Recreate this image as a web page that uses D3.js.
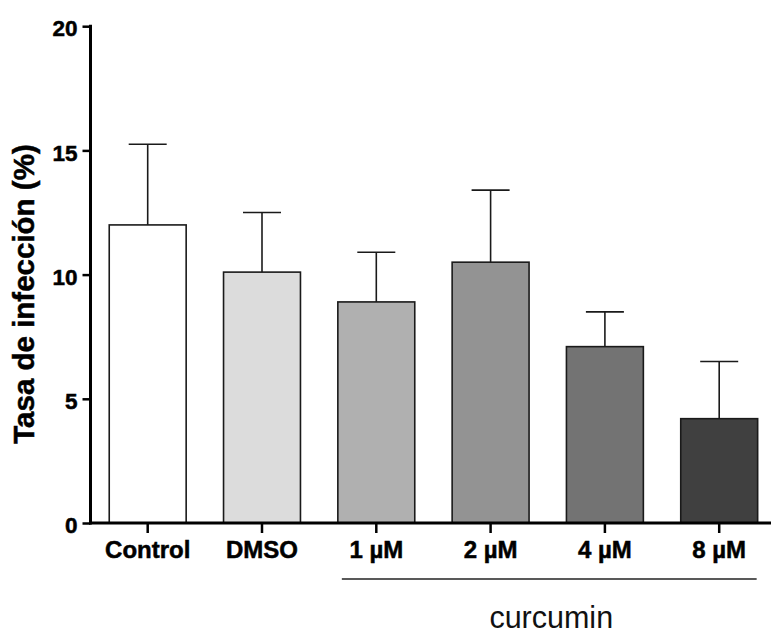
<!DOCTYPE html>
<html><head><meta charset="utf-8">
<script src="https://cdn.jsdelivr.net/npm/d3@7"></script>
<style>body{margin:0;background:#fff}svg{display:block}text{font-family:"Liberation Sans",Arial,sans-serif}</style>
</head><body>
<svg id="c" width="771" height="635"></svg>
<script>
const categories = ["Control","DMSO","1 µM","2 µM","4 µM","8 µM"];
const means = [12.0, 10.1, 8.9, 10.5, 7.1, 4.2];
const errors = [3.25, 2.4, 2.0, 2.9, 1.4, 2.3];
const fills = ["#ffffff","#dcdcdc","#b0b0b0","#939393","#737373","#404040"];
const yTicks = [0,5,10,15,20];
const groupLabel = "curcumin";
const yTitle = "Tasa de infección (%)";

const svg = d3.select("#c");
const y = d3.scaleLinear().domain([0,20]).range([523,26.2]);
const step = 114.3;
const x = d3.scaleBand().domain(categories).range([147.7-step/2, 147.7-step/2+step*6]).paddingInner(0.327).paddingOuter(0.1635);

// bars
svg.selectAll("rect.bar").data(categories).join("rect")
  .attr("x", d=>x(d)).attr("width", x.bandwidth())
  .attr("y", (d,i)=>y(means[i])).attr("height", (d,i)=>y(0)-y(means[i]))
  .attr("fill",(d,i)=>fills[i]).attr("stroke","#1a1a1a").attr("stroke-width",1.6);

// error bars
const eg = svg.append("g").attr("stroke","#1a1a1a").attr("stroke-width",1.6);
categories.forEach((d,i)=>{
  const cx = x(d)+x.bandwidth()/2;
  eg.append("line").attr("x1",cx).attr("x2",cx).attr("y1",y(means[i])).attr("y2",y(means[i]+errors[i]));
  eg.append("line").attr("x1",cx-19).attr("x2",cx+19).attr("y1",y(means[i]+errors[i])).attr("y2",y(means[i]+errors[i]));
});

// y axis
const ya = svg.append("g").attr("transform","translate(90.5,0)")
  .call(d3.axisLeft(y).tickValues(yTicks).tickSize(8).tickPadding(5).tickFormat(d3.format("d")));
ya.select(".domain").remove();
ya.selectAll(".tick line").attr("stroke","#000").attr("stroke-width",2.5);
ya.selectAll(".tick text").attr("font-size","22.5px").attr("font-weight","bold").attr("fill","#000")
  .attr("stroke","#000").attr("stroke-width",0.5)
  .attr("font-family",'"Liberation Sans",Arial,sans-serif').attr("dy","0.43em");
svg.append("line").attr("x1",90.5).attr("x2",90.5).attr("y1",24.8).attr("y2",524.5).attr("stroke","#000").attr("stroke-width",3);

// x axis
const xa = svg.append("g").attr("transform","translate(0,523)")
  .call(d3.axisBottom(x).tickSize(10).tickPadding(6));
xa.select(".domain").remove();
xa.selectAll(".tick line").attr("stroke","#000").attr("stroke-width",2.5);
xa.selectAll(".tick text").attr("font-size","24px").attr("font-weight","bold").attr("fill","#000")
  .attr("stroke","#000").attr("stroke-width",0.5)
  .attr("font-family",'"Liberation Sans",Arial,sans-serif').attr("dy",null).attr("y",34.7);
svg.append("line").attr("x1",89).attr("x2",771).attr("y1",523).attr("y2",523).attr("stroke","#000").attr("stroke-width",3);

// group bracket
const g0 = x(categories[2]) + 4, g1 = x(categories[5]) + x.bandwidth() - 1;
svg.append("line").attr("x1",g0).attr("x2",g1).attr("y1",579).attr("y2",579).attr("stroke","#222").attr("stroke-width",1.5);
svg.append("text").attr("x",(g0+g1)/2+2).attr("y",627.7).attr("text-anchor","middle")
  .attr("font-size","30.5px").attr("fill","#111").text(groupLabel);

// y title
svg.append("text").attr("transform","translate(34.3,294) rotate(-90)").attr("text-anchor","middle")
  .attr("font-size","29.5px").attr("font-weight","bold").attr("fill","#000")
  .attr("stroke","#000").attr("stroke-width",0.5).text(yTitle);
</script>
</body></html>
